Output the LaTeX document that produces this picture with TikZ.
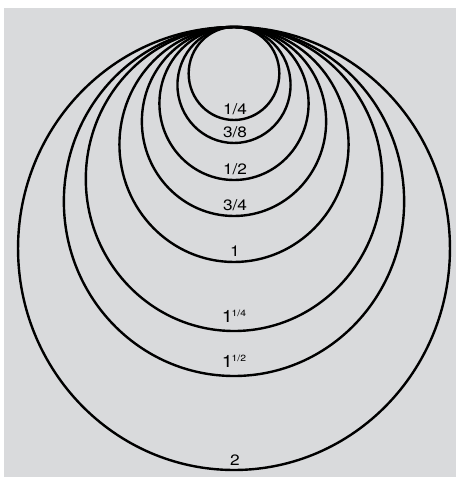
\documentclass[tikz,border=0pt]{standalone}
\usepackage{fontspec}
\setmainfont{TeX Gyre Heros}
\definecolor{panelgray}{RGB}{217,218,220}
\newcommand{\supfrac}[1]{\kern-0.06em\raisebox{0.40em}{\fontsize{9}{9}\selectfont #1}}
\tikzset{
  pipe/.style={line width=2.4pt},
  sizelabel/.style={anchor=base, inner sep=0pt, font=\fontsize{15}{15}\selectfont, xscale=1.15},
  mixlabel/.style={sizelabel, font=\fontsize{17}{17}\selectfont}
}
\begin{document}
\begin{tikzpicture}[x=1pt,y=1pt]
        \useasboundingbox (0,0) rectangle (456,477);
        \fill[panelgray] (4,0) rectangle (456,469);

        % circles, all touching the same top point
        \foreach \r/\t [count=\i] in {46.5/{1/4}, 58/{3/8}, 76.5/{1/2}, 94.5/{3/4}, 117.5/{1}, 221.5/{2}}
        {
          \draw[pipe] (234,{450-\r}) ellipse [x radius={0.975*\r}, y radius=\r];
          \node[sizelabel] (lab\i) at (235,{450-2*\r+5}) {\t};
        }
        % the two mixed sizes
        \foreach \r/\t [count=\i] in {152/{1\supfrac{1/4}}, 174.5/{1\supfrac{1/2}}}
        {
          \draw[pipe] (234,{450-\r}) ellipse [x radius={0.975*\r}, y radius=\r];
          \node[mixlabel] (mix\i) at (234,{450-2*\r+8}) {\t};
        }
    \end{tikzpicture}
\end{document}
